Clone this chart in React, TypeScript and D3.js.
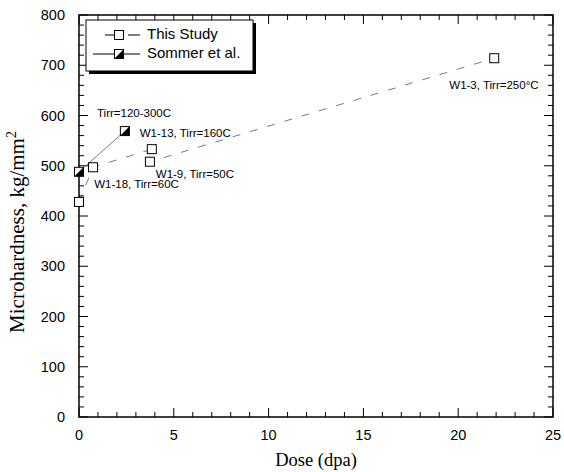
import React from "react";
import * as d3 from "d3";

const studyDose = [0, 0.74, 3.84, 3.74, 21.9];
const studyHardness = [428, 497, 533, 508, 714];
const sommerDose = [0, 2.42];
const sommerHardness = [488, 569];
const xTicks = [0, 5, 10, 15, 20, 25];
const yTicks = [0, 100, 200, 300, 400, 500, 600, 700, 800];
const annotations = [
  { text: "Tirr=120-300C", dose: 0.95, hardness: 603 },
  { text: "W1-13, Tirr=160C", dose: 3.2, hardness: 563 },
  { text: "W1-9, Tirr=50C", dose: 4.05, hardness: 482 },
  { text: "W1-18, Tirr=60C", dose: 0.8, hardness: 461 },
  { text: "W1-3, Tirr=250°C", dose: 19.53, hardness: 658 },
];

const W = 564;
const H = 472;
const L = 79, R = 553, T = 15, B = 417;

export default function App() {
  const x = d3.scaleLinear().domain([0, 25]).range([L, R]);
  const y = d3.scaleLinear().domain([0, 800]).range([B, T]);
  const xMinor = d3.range(0, 26, 1);
  const yMinor = d3.range(0, 801, 20);
  const line = d3.line<[number, number]>().x((d) => x(d[0])).y((d) => y(d[1]));
  const study: [number, number][] = studyDose.map((d, i) => [d, studyHardness[i]]);
  const sommer: [number, number][] = sommerDose.map((d, i) => [d, sommerHardness[i]]);
  const s = 4.5;
  const half = (cx: number, cy: number) => (
    <g>
      <rect x={cx - s} y={cy - s} width={2 * s} height={2 * s} fill="white" stroke="black" strokeWidth={1} />
      <polygon points={`${cx - s},${cy + s} ${cx + s},${cy + s} ${cx + s},${cy - s}`} fill="black" />
    </g>
  );
  const sq = (cx: number, cy: number) => (
    <rect x={cx - s} y={cy - s} width={2 * s} height={2 * s} fill="white" stroke="black" strokeWidth={1} />
  );
  return (
    <svg width={W} height={H} style={{ position: "absolute", left: 0, top: 0 }}>
      <rect width={W} height={H} fill="white" />
      {xMinor.map((v) => {
        const major = v % 5 === 0;
        const len = major ? 9 : 5;
        return (
          <g key={"xm" + v} stroke="black" strokeWidth={1}>
            <line x1={x(v)} x2={x(v)} y1={B} y2={B - len} />
            <line x1={x(v)} x2={x(v)} y1={T} y2={T + len} />
          </g>
        );
      })}
      {yMinor.map((v) => {
        const major = v % 100 === 0;
        const len = major ? 9 : 5;
        return (
          <g key={"ym" + v} stroke="black" strokeWidth={1}>
            <line x1={L} x2={L + len} y1={y(v)} y2={y(v)} />
            <line x1={R} x2={R - len} y1={y(v)} y2={y(v)} />
          </g>
        );
      })}
      <rect x={L} y={T} width={R - L} height={B - T} fill="none" stroke="black" strokeWidth={1.5} />
      {xTicks.map((v) => (
        <text key={"xt" + v} x={x(v)} y={440} textAnchor="middle" fontFamily="Arial, Liberation Sans" fontSize={14.5}>{v}</text>
      ))}
      {yTicks.map((v) => (
        <text key={"yt" + v} x={65} y={y(v) + 5} textAnchor="end" fontFamily="Arial, Liberation Sans" fontSize={14.5}>{v}</text>
      ))}
      <text x={316} y={466} textAnchor="middle" fontFamily="Times New Roman, Liberation Serif" fontSize={18.5}>Dose (dpa)</text>
      <text transform={`translate(24,${232}) rotate(-90)`} textAnchor="middle" fontFamily="Times New Roman, Liberation Serif" fontSize={21}>
        Microhardness, kg/mm<tspan dy={-8} fontSize={14}>2</tspan>
      </text>
      <path d={line(study) || ""} fill="none" stroke="#555" strokeWidth={0.8} strokeDasharray="8,10" />
      <path d={line(sommer) || ""} fill="none" stroke="#555" strokeWidth={0.8} />
      {study.map((d, i) => <g key={"s" + i}>{sq(x(d[0]), y(d[1]))}</g>)}
      {sommer.map((d, i) => <g key={"m" + i}>{half(x(d[0]), y(d[1]))}</g>)}
      {annotations.map((a, i) => (
        <text key={"a" + i} x={x(a.dose)} y={y(a.hardness)} dominantBaseline="middle" fontFamily="Arial, Liberation Sans" fontSize={11.5}>{a.text}</text>
      ))}
      <rect x={89} y={23} width={167} height={51} fill="black" />
      <rect x={86} y={20} width={167} height={51} fill="white" stroke="black" strokeWidth={1} />
      <line x1={105} x2={114} y1={35} y2={35} stroke="black" />
      <line x1={128} x2={140} y1={35} y2={35} stroke="black" />
      {sq(119, 35)}
      <text x={147} y={35} dominantBaseline="middle" fontFamily="Arial, Liberation Sans" fontSize={15}>This Study</text>
      <line x1={93} x2={140} y1={54} y2={54} stroke="black" />
      {half(119, 54)}
      <text x={147} y={54} dominantBaseline="middle" fontFamily="Arial, Liberation Sans" fontSize={15}>Sommer et al.</text>
    </svg>
  );
}
